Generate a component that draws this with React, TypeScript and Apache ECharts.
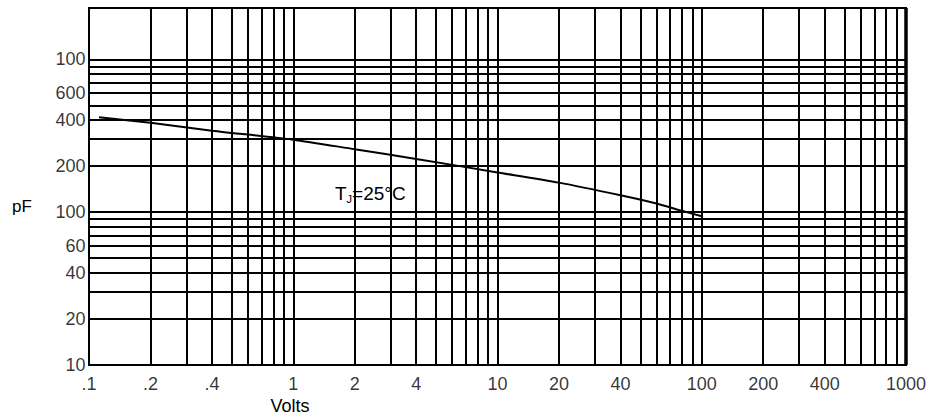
import React, { useEffect, useRef } from "react";
import * as echarts from "echarts";

// Curve: junction capacitance (pF) vs reverse voltage (V), TJ = 25°C
const voltage = [0.112, 0.2, 0.4, 1, 2, 4, 10, 20, 40, 60, 80, 100];
const capacitance = [417, 384, 341, 298, 258, 223, 182, 156, 129, 114, 102, 94];

// Tick labels (as printed on the original sheet)
const xTickValues = [0.1, 0.2, 0.4, 1, 2, 4, 10, 20, 40, 100, 200, 400, 1000];
const xTickLabels = [".1", ".2", ".4", "1", "2", "4", "10", "20", "40", "100", "200", "400", "1000"];
const yTickValues = [10, 20, 40, 60, 100, 200, 400, 600, 1000];
const yTickLabels = ["10", "20", "40", "60", "100", "200", "400", "600", "100"];

// Log-paper grid lines
const xGridLines = [
  0.2, 0.3, 0.4, 0.5, 0.6, 0.7, 0.8, 0.9, 1,
  2, 3, 4, 5, 6, 7, 8, 9, 10,
  20, 30, 40, 50, 60, 70, 80, 90, 100,
  200, 300, 400, 500, 600, 700, 800, 900,
];
const yGridLines = [
  20, 30, 40, 50, 60, 70, 80, 90, 100,
  200, 300, 400, 500, 600, 700, 800, 900, 1000,
];

const X_MIN = 0.1;
const X_MAX = 1000;
const Y_MIN = 10;
const Y_MAX = 2166;

const FONT = "'Liberation Sans', Arial, Helvetica, sans-serif";

export default function App() {
  const ref = useRef<HTMLDivElement>(null);

  useEffect(() => {
    if (!ref.current) return;
    const chart = echarts.init(ref.current, null, { renderer: "svg" });

    const gridMarks: any[] = [
      ...xGridLines.map((v) => ({ xAxis: v })),
      { xAxis: X_MAX, lineStyle: { width: 3.5, color: "#000", type: "solid" } },
      ...yGridLines.map((v) => ({ yAxis: v })),
    ];

    const option: any = {
      animation: false,
      backgroundColor: "#fff",
      grid: {
        left: 89,
        top: 8,
        width: 817,
        height: 357,
        show: true,
        borderColor: "#000",
        borderWidth: 2,
        backgroundColor: "transparent",
        outerBoundsMode: "none",
        containLabel: false,
      },
      xAxis: {
        type: "log",
        logBase: 10,
        min: X_MIN,
        max: X_MAX,
        axisLine: { show: true, lineStyle: { color: "#000", width: 2 } },
        axisTick: { show: false },
        axisLabel: { show: false },
        splitLine: { show: false },
        minorSplitLine: { show: false },
      },
      yAxis: {
        type: "log",
        logBase: 10,
        min: Y_MIN,
        max: Y_MAX,
        axisLine: { show: true, lineStyle: { color: "#000", width: 2 } },
        axisTick: { show: false },
        axisLabel: { show: false },
        splitLine: { show: false },
        minorSplitLine: { show: false },
      },
      series: [
        {
          name: "grid",
          type: "line",
          data: [],
          silent: true,
          z: 1,
          markLine: {
            silent: true,
            z: 1,
            symbol: "none",
            animation: false,
            label: { show: false },
            emphasis: { disabled: true },
            lineStyle: { color: "#000", width: 2, type: "solid" },
            data: gridMarks,
          },
        },
        {
          name: "Capacitance",
          type: "line",
          data: voltage.map((v, i) => [v, capacitance[i]]),
          showSymbol: false,
          smooth: 0.25,
          silent: true,
          z: 5,
          lineStyle: { color: "#000", width: 2 },
          emphasis: { disabled: true },
        },
        {
          name: "xTicks",
          type: "scatter",
          data: xTickValues.map((v) => [v, Y_MIN]),
          symbolSize: 1,
          clip: false,
          silent: true,
          z: 6,
          itemStyle: { color: "rgba(0,0,0,0)" },
          emphasis: { disabled: true },
          label: {
            show: true,
            position: "bottom",
            distance: 9,
            color: "#000",
            fontSize: 18,
            fontFamily: FONT,
            formatter: (p: any) => xTickLabels[p.dataIndex],
          },
        },
        {
          name: "yTicks",
          type: "scatter",
          data: yTickValues.map((v) => [X_MIN, v]),
          symbolSize: 1,
          clip: false,
          silent: true,
          z: 6,
          itemStyle: { color: "rgba(0,0,0,0)" },
          emphasis: { disabled: true },
          label: {
            show: true,
            position: "left",
            distance: 3,
            color: "#000",
            fontSize: 18,
            fontFamily: FONT,
            formatter: (p: any) => yTickLabels[p.dataIndex],
          },
        },
      ],
      graphic: [
        {
          type: "text",
          x: 12,
          y: 206,
          silent: true,
          style: {
            text: "pF",
            fill: "#000",
            font: `17px ${FONT}`,
            align: "left",
            verticalAlign: "middle",
            textAlign: "left",
            textVerticalAlign: "middle",
          },
        },
        {
          type: "text",
          x: 290,
          y: 406,
          silent: true,
          style: {
            text: "Volts",
            fill: "#000",
            font: `18px ${FONT}`,
            align: "center",
            verticalAlign: "middle",
            textAlign: "center",
            textVerticalAlign: "middle",
          },
        },
        {
          type: "text",
          x: 335,
          y: 193,
          silent: true,
          z: 10,
          style: {
            text: "{a|T}{b|J}{a|=25°C}",
            fill: "#000",
            align: "left",
            verticalAlign: "middle",
            textAlign: "left",
            textVerticalAlign: "middle",
            rich: {
              a: { fontSize: 19, fontFamily: FONT, color: "#000", fill: "#000", lineHeight: 22 },
              b: {
                fontSize: 11,
                fontFamily: FONT,
                color: "#000",
                fill: "#000",
                lineHeight: 12,
                verticalAlign: "bottom",
              },
            },
          },
        },
      ],
    };

    chart.setOption(option);
    return () => {
      chart.dispose();
    };
  }, []);

  return (
    <div
      ref={ref}
      style={{ position: "fixed", left: 0, top: 0, width: 930, height: 416, background: "#fff" }}
    />
  );
}
